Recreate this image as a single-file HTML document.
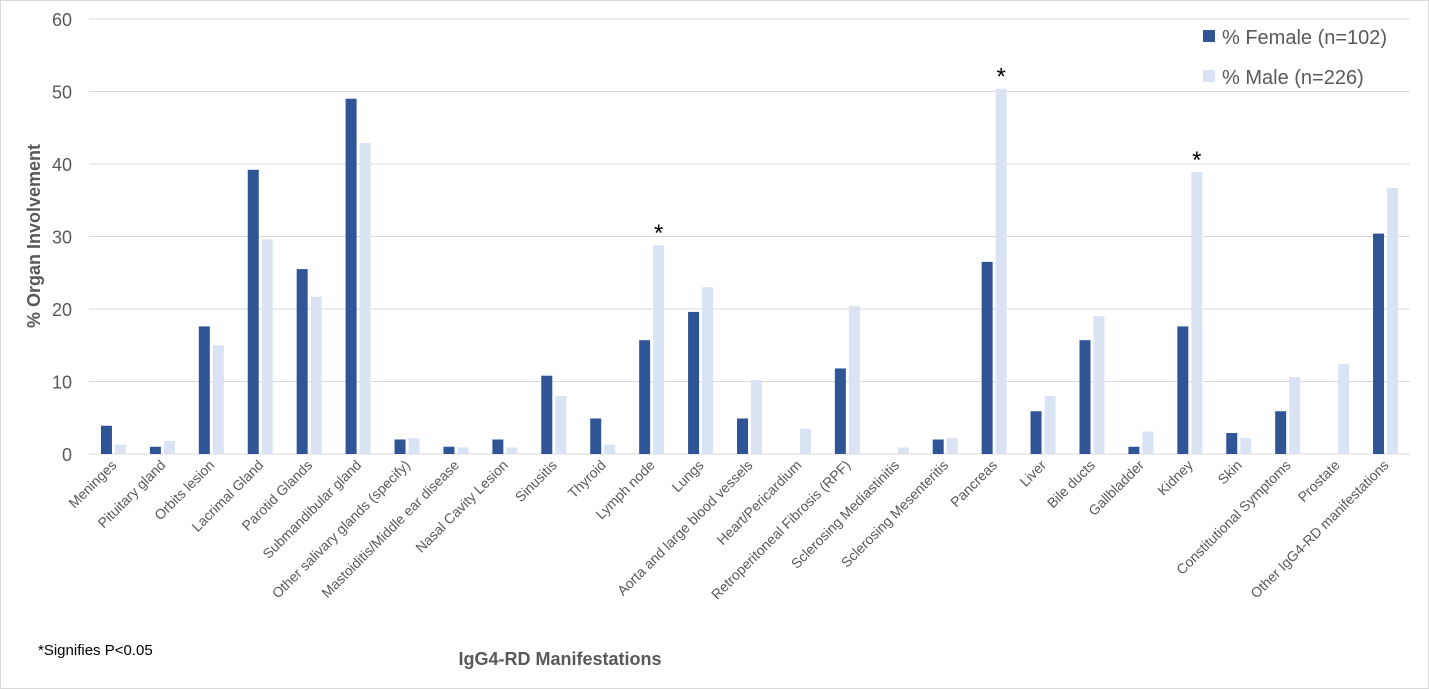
<!DOCTYPE html>
<html><head><meta charset="utf-8"><style>
body{margin:0;background:#fff}
svg{display:block;font-family:"Liberation Sans",Arial,sans-serif}
</style></head><body>
<svg id="chart" width="1429" height="689">
<rect x="0.5" y="0.5" width="1428" height="688" fill="#fff" stroke="#d9d9d9"/>
<g id="grid"></g><g id="bars"></g><g id="xlabels"></g>
<text x="40" y="236" transform="rotate(-90 40 236)" text-anchor="middle" font-size="18" font-weight="bold" fill="#595959">% Organ Involvement</text>
<text x="560" y="665" text-anchor="middle" font-size="18" font-weight="bold" fill="#595959">IgG4-RD Manifestations</text>
<text x="38" y="655" font-size="15" fill="#000">*Signifies P&lt;0.05</text>
<g>
<rect x="1203" y="30" width="12" height="12" fill="#2f5597"/>
<text x="1222" y="44" font-size="20" fill="#595959">% Female (n=102)</text>
<rect x="1203" y="70" width="12" height="12" fill="#dae3f3"/>
<text x="1222" y="84" font-size="20" fill="#595959">% Male (n=226)</text>
</g>
</svg>
<script>
const categories=["Meninges","Pituitary gland","Orbits lesion","Lacrimal Gland","Parotid Glands","Submandibular gland","Other salivary glands (specify)","Mastoiditis/Middle ear disease","Nasal Cavity Lesion","Sinusitis","Thyroid","Lymph node","Lungs","Aorta and large blood vessels","Heart/Pericardium","Retroperitoneal Fibrosis (RPF)","Sclerosing Mediastinitis","Sclerosing Mesenteritis","Pancreas","Liver","Bile ducts","Gallbladder","Kidney","Skin","Constitutional Symptoms","Prostate","Other IgG4-RD manifestations"];
const female=[3.9,1.0,17.6,39.2,25.5,49.0,2.0,1.0,2.0,10.8,4.9,15.7,19.6,4.9,0,11.8,0,2.0,26.5,5.9,15.7,1.0,17.6,2.9,5.9,0,30.4];
const male=[1.3,1.8,15.0,29.6,21.7,42.9,2.2,0.9,0.9,8.0,1.3,28.8,23.0,10.2,3.5,20.4,0.9,2.2,50.4,8.0,19.0,3.1,38.9,2.2,10.6,12.4,36.7];
const significant=["Lymph node","Pancreas","Kidney"];
const yTicks=[0,10,20,30,40,50,60];
const X0=89,X1=1410,Y0=454,Y60=19;
const NS="http://www.w3.org/2000/svg";
const bw=(X1-X0)/categories.length;
function y(v){return Y0-(v/60)*(Y0-Y60);}
function xc(i){return X0+bw*(i+0.5);}
function mk(tag,attrs,parent){const e=document.createElementNS(NS,tag);for(const k in attrs)e.setAttribute(k,attrs[k]);document.getElementById(parent).appendChild(e);return e;}
yTicks.forEach(t=>{
 const l=mk('line',{x1:X0,x2:X1,y1:y(t),y2:y(t),stroke:'#d9d9d9','stroke-width':1},'grid');
 
 
 const tx=mk('text',{x:72,y:y(t)+7,'text-anchor':'end','font-size':18,fill:'#595959'},'grid');
 tx.textContent=t;
 
 
});
categories.forEach((c,i)=>{
 const cx=xc(i);
 const f=mk('rect',{x:cx-12.5,y:y(female[i]),width:11,height:Y0-y(female[i]),fill:'#2f5597'},'bars');
 
 
 const m=mk('rect',{x:cx+1.5,y:y(male[i]),width:11,height:Y0-y(male[i]),fill:'#dae3f3'},'bars');
 
 
 if(significant.includes(c)){
  const s=mk('text',{x:cx+7,y:y(Math.max(female[i],male[i]))-4,'text-anchor':'middle','font-size':24,fill:'#000'},'bars');
  s.textContent='*';
  
  
 }
 const lx=cx+4,ly=466;
 const t=mk('text',{x:lx,y:ly,'text-anchor':'end','font-size':14,fill:'#595959',transform:`rotate(-45 ${lx} ${ly})`},'xlabels');
 t.textContent=c;
 
 
});
</script>
</body></html>
